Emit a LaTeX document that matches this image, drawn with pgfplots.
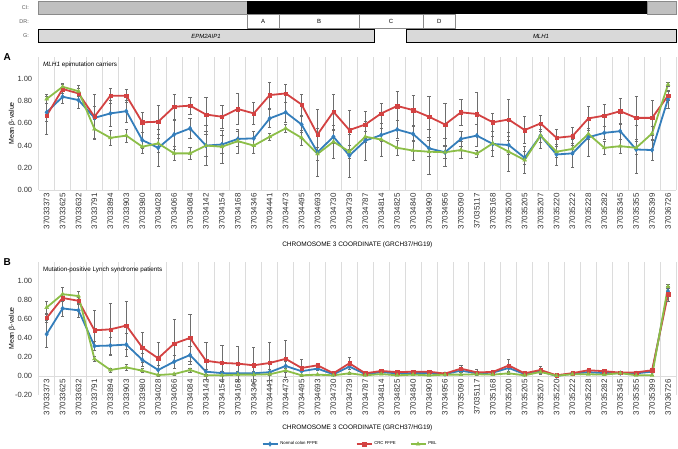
\documentclass[border=0pt]{standalone}
\usepackage{pgfplots}
\pgfplotsset{compat=1.18}
\usepackage{pgfplotstable}
\usepackage{fontspec}
\setmainfont{Liberation Sans}

\definecolor{nblue}{HTML}{347EBB}
\definecolor{cred}{HTML}{D34242}
\definecolor{pgreen}{HTML}{8CBE48}
\definecolor{gridc}{HTML}{DCDCDC}
\definecolor{errc}{HTML}{6E6E6E}
\definecolor{cigray}{HTML}{C0C0C0}
\definecolor{ciborder}{HTML}{8A8A8A}
\definecolor{ggray}{HTML}{D9D9D9}
\definecolor{labgray}{HTML}{5A5A5A}

% x = position, r/er = CRC FFPE, b/eb = normal colon FFPE, g/eg = PBL
\pgfplotstableread{
x  r     er    b     eb    g     eg
0  0.67  0.17  0.70  0.08  0.82  0.04
1  0.91  0.04  0.84  0.06  0.93  0.03
2  0.87  0.05  0.81  0.07  0.89  0.05
3  0.66  0.20  0.65  0.10  0.55  0.085
4  0.85  0.07  0.69  0.12  0.47  0.065
5  0.85  0.06  0.71  0.10  0.49  0.06
6  0.61  0.09  0.45  0.07  0.39  0.06
7  0.615 0.145 0.38  0.17  0.42  0.08
8  0.75  0.115 0.50  0.13  0.33  0.065
9  0.76  0.075 0.555 0.09  0.33  0.055
10 0.68  0.155 0.40  0.18  0.40  0.10
11 0.66  0.10  0.41  0.08  0.39  0.15
12 0.73  0.14  0.46  0.07  0.44  0.11
13 0.69  0.10  0.465 0.06  0.40  0.07
14 0.855 0.115 0.645 0.08  0.48  0.03
15 0.87  0.08  0.70  0.09  0.555 0.035
16 0.77  0.095 0.59  0.07  0.47  0.065
17 0.50  0.23  0.34  0.22  0.325 0.06
18 0.705 0.16  0.48  0.06  0.435 0.145
19 0.54  0.175 0.31  0.195 0.345 0.06
20 0.59  0.12  0.445 0.175 0.48  0.05
21 0.69  0.09  0.495 0.06  0.455 0.15
22 0.757 0.133 0.545 0.08  0.38  0.065
23 0.72  0.135 0.505 0.07  0.355 0.09
24 0.66  0.185 0.375 0.07  0.345 0.205
25 0.59  0.19  0.34  0.125 0.34  0.05
26 0.70  0.115 0.46  0.07  0.36  0.075
27 0.685 0.195 0.49  0.10  0.327 0.03
28 0.61  0.08  0.415 0.115 0.42  0.06
29 0.635 0.185 0.405 0.08  0.345 0.175
30 0.54  0.12  0.29  0.06  0.27  0.12
31 0.60  0.07  0.49  0.115 0.49  0.06
32 0.47  0.075 0.32  0.095 0.345 0.05
33 0.485 0.08  0.33  0.125 0.37  0.05
34 0.645 0.105 0.475 0.175 0.505 0.05
35 0.67  0.10  0.515 0.06  0.38  0.06
36 0.71  0.12  0.53  0.07  0.395 0.06
37 0.65  0.19  0.365 0.215 0.38  0.06
38 0.65  0.16  0.36  0.095 0.51  0.06
39 0.85  0.04  0.82  0.08  0.95  0.02
}\tabA

\pgfplotstableread{
x  r     er    b     eb    g     eg
0  0.61  0.05  0.44  0.14  0.72  0.07
1  0.82  0.04  0.71  0.08  0.86  0.07
2  0.79  0.04  0.69  0.07  0.84  0.05
3  0.48  0.215 0.315 0.05  0.18  0.03
4  0.49  0.27  0.32  0.09  0.063 0.02
5  0.53  0.25  0.33  0.12  0.09  0.03
6  0.30  0.16  0.17  0.07  0.056 0.02
7  0.186 0.164 0.063 0.05  0.01  0.01
8  0.34  0.26  0.15  0.07  0.02  0.01
9  0.40  0.25  0.22  0.095 0.063 0.02
10 0.16  0.19  0.045 0.03  0.008 0.01
11 0.137 0.19  0.03  0.02  0.007 0.005
12 0.13  0.185 0.028 0.02  0.014 0.01
13 0.112 0.19  0.028 0.02  0.014 0.01
14 0.137 0.22  0.04  0.03  0.018 0.01
15 0.18  0.19  0.105 0.05  0.056 0.02
16 0.084 0.09  0.05  0.03  0.007 0.005
17 0.112 0.02  0.077 0.02  0.014 0.005
18 0.028 0.01  0.018 0.01  0.007 0.005
19 0.133 0.067 0.098 0.03  0.028 0.01
20 0.028 0.01  0.02  0.01  0.007 0.005
21 0.053 0.01  0.04  0.01  0.02  0.005
22 0.04  0.01  0.028 0.01  0.007 0.005
23 0.045 0.01  0.03  0.01  0.014 0.005
24 0.045 0.01  0.03  0.01  0.007 0.005
25 0.025 0.01  0.02  0.01  0.014 0.005
26 0.077 0.038 0.056 0.02  0.014 0.005
27 0.038 0.032 0.028 0.01  0.018 0.005
28 0.042 0.01  0.035 0.01  0.014 0.005
29 0.11  0.065 0.084 0.03  0.028 0.01
30 0.028 0.01  0.02  0.01  0.007 0.005
31 0.063 0.042 0.05  0.02  0.042 0.01
32 0.007 0.005 0.0   0.005 0.003 0.005
33 0.03  0.01  0.025 0.01  0.018 0.005
34 0.06  0.015 0.04  0.01  0.018 0.005
35 0.05  0.012 0.03  0.01  0.014 0.005
36 0.035 0.01  0.03  0.01  0.03  0.005
37 0.038 0.01  0.028 0.01  0.007 0.005
38 0.06  0.015 0.045 0.01  0.007 0.005
39 0.86  0.08  0.89  0.05  0.94  0.02
}\tabB

\pgfplotsset{
  panel/.style={
    anchor=south west,
    scale only axis, width=637.3pt, height=133.2pt,
    xmin=-0.5, xmax=39.5, ymax=1.2,
    xtick={0,...,39},
    xticklabels={37033373,37033625,37033632,37033791,37033894,37033903,37033980,37034028,37034066,37034084,37034142,37034154,37034168,37034346,37034441,37034473,37034495,37034693,37034730,37034739,37034787,37034814,37034825,37034840,37034909,37034956,37035090,37035117,37035168,37035200,37035205,37035207,37035220,37035222,37035228,37035282,37035345,37035355,37035399,37036726},
    xticklabel style={rotate=90, anchor=east, font=\fontsize{8}{8}\selectfont, text=black!80},
    minor xtick={-0.5,0.5,...,39.5},
    xminorgrids=true,
    minor grid style={gridc, line width=0.8pt},
    major tick length=0pt, minor tick length=0pt,
    axis y line*=left,
    y axis line style={draw=none},
    x axis line style={gridc, line width=0.8pt},
    hide obscured x ticks=false, hide obscured y ticks=false,
    yticklabel style={font=\fontsize{7.5}{7.5}\selectfont, text=black!80, xshift=-3pt,
      /pgf/number format/.cd, fixed, fixed zerofill, precision=2, assume math mode=true},
    ylabel={Mean β-value},
    ylabel style={font=\fontsize{7}{7}\selectfont, at={([xshift=-26.7pt]rel axis cs:0,0.5)}, anchor=center},
    xlabel={CHROMOSOME 3 COORDINATE (GRCH37/HG19)},
    clip=false,
  },
  ebar/.style={error bars/.cd, y dir=both, y explicit,
    error bar style={errc, line width=0.6pt},
    error mark options={errc, rotate=90, mark size=1.6pt, line width=0.6pt}},
  sblue/.style={nblue, line width=1.8pt, mark=diamond*, mark options={line width=0.3pt, mark size=2.4pt}},
  sred/.style={cred, line width=1.8pt, mark=square*, mark options={line width=0.3pt, mark size=1.7pt}},
  sgreen/.style={pgreen, line width=1.8pt, mark=triangle*, mark options={line width=0.3pt, mark size=2.3pt}},
}

\begin{document}
\begin{tikzpicture}
\useasboundingbox (0pt,0pt) rectangle (678pt,448pt);

% gene track header
\begin{axis}[at={(38.7pt,405pt)}, anchor=south west, scale only axis,
  width=637.3pt, height=43pt, xmin=38.7, xmax=676, ymin=0, ymax=43,
  y dir=reverse, hide axis, clip=false]
  \filldraw[fill=cigray, draw=ciborder, line width=0.6pt] (axis cs:38.7,1) rectangle (axis cs:247,14.5);
  \fill[black] (axis cs:247,1) rectangle (axis cs:647,14.5);
  \filldraw[fill=cigray, draw=ciborder, line width=0.6pt] (axis cs:647,1) rectangle (axis cs:676.5,14.5);
  \draw[ciborder, line width=0.5pt] (axis cs:247,14.5) rectangle (axis cs:279,28)
    (axis cs:279,14.5) rectangle (axis cs:359,28)
    (axis cs:359,14.5) rectangle (axis cs:423,28)
    (axis cs:423,14.5) rectangle (axis cs:455.5,28);
  \filldraw[fill=ggray, draw=black, line width=0.8pt] (axis cs:38.7,29.5) rectangle (axis cs:374,42.5);
  \filldraw[fill=ggray, draw=black, line width=0.8pt] (axis cs:406,29.5) rectangle (axis cs:676.5,42.5);
  \begin{scope}[font=\fontsize{6}{6}\selectfont]
    \node at (axis cs:263,21.3) {A};
    \node at (axis cs:319,21.3) {B};
    \node at (axis cs:391,21.3) {C};
    \node at (axis cs:439.2,21.3) {D};
    \node at (axis cs:206,36) {\itshape EPM2AIP1};
    \node at (axis cs:541,36) {\itshape MLH1};
  \end{scope}
  \begin{scope}[font=\fontsize{5.5}{5.5}\selectfont, text=labgray]
    \node[anchor=east] at (axis cs:32.5,7.8) {CI:};
    \node[anchor=east] at (axis cs:32.5,21.3) {DR:};
    \node[anchor=east] at (axis cs:32.5,36) {G:};
  \end{scope}
\end{axis}

\node[anchor=west, font=\bfseries\fontsize{10}{10}\selectfont] at (0pt,391pt) {A};
\node[anchor=west, font=\bfseries\fontsize{10}{10}\selectfont] at (0pt,186pt) {B};

% panel A
\begin{axis}[panel, at={(38.7pt,258pt)}, ymin=0,
  ytick={0,0.2,0.4,0.6,0.8,1},
  axis x line*=bottom,
  xlabel style={font=\fontsize{6.5}{6.5}\selectfont, at={(rel axis cs:0.5,0)}, anchor=center, yshift=-55pt}]
  \node[anchor=west, font=\fontsize{6.3}{6.3}\selectfont] at ([xshift=1pt,yshift=-8.5pt]rel axis cs:0,1) {\textit{MLH1} epimutation carriers};
  \addplot[sblue, ebar] table[x=x, y=b, y error=eb] {\tabA};
  \addplot[sred, ebar] table[x=x, y=r, y error=er] {\tabA};
  \addplot[sgreen, ebar] table[x=x, y=g, y error=eg] {\tabA};
\end{axis}

% panel B
\begin{axis}[panel, at={(38.7pt,53pt)}, ymin=-0.2,
  ytick={-0.2,0,0.2,0.4,0.6,0.8,1},
  axis x line*=middle,
  xlabel style={font=\fontsize{6.5}{6.5}\selectfont, at={(rel axis cs:0.5,0)}, anchor=center, yshift=-33pt},
  legend style={draw=none, fill=none, font=\fontsize{4.3}{4.3}\selectfont, legend columns=3,
    at={(0.345,-0.368)}, anchor=west,
    /tikz/column 2/.style={column sep=36pt},
    /tikz/column 4/.style={column sep=12pt}},
  legend cell align=left,
  legend image code/.code={\draw[mark repeat=2, mark phase=2, line width=1.5pt, #1] plot coordinates {(0pt,0pt) (7.5pt,0pt) (15pt,0pt)};}]
  \node[anchor=west, font=\fontsize{6.3}{6.3}\selectfont] at ([xshift=1pt,yshift=-8pt]rel axis cs:0,1) {Mutation-positive Lynch syndrome patients};
  \addplot[sblue, ebar] table[x=x, y=b, y error=eb] {\tabB};
  \addlegendentry{Normal colon FFPE}
  \addplot[sred, ebar] table[x=x, y=r, y error=er] {\tabB};
  \addlegendentry{CRC FFPE}
  \addplot[sgreen, ebar] table[x=x, y=g, y error=eg] {\tabB};
  \addlegendentry{PBL}
\end{axis}
\end{tikzpicture}
\end{document}
